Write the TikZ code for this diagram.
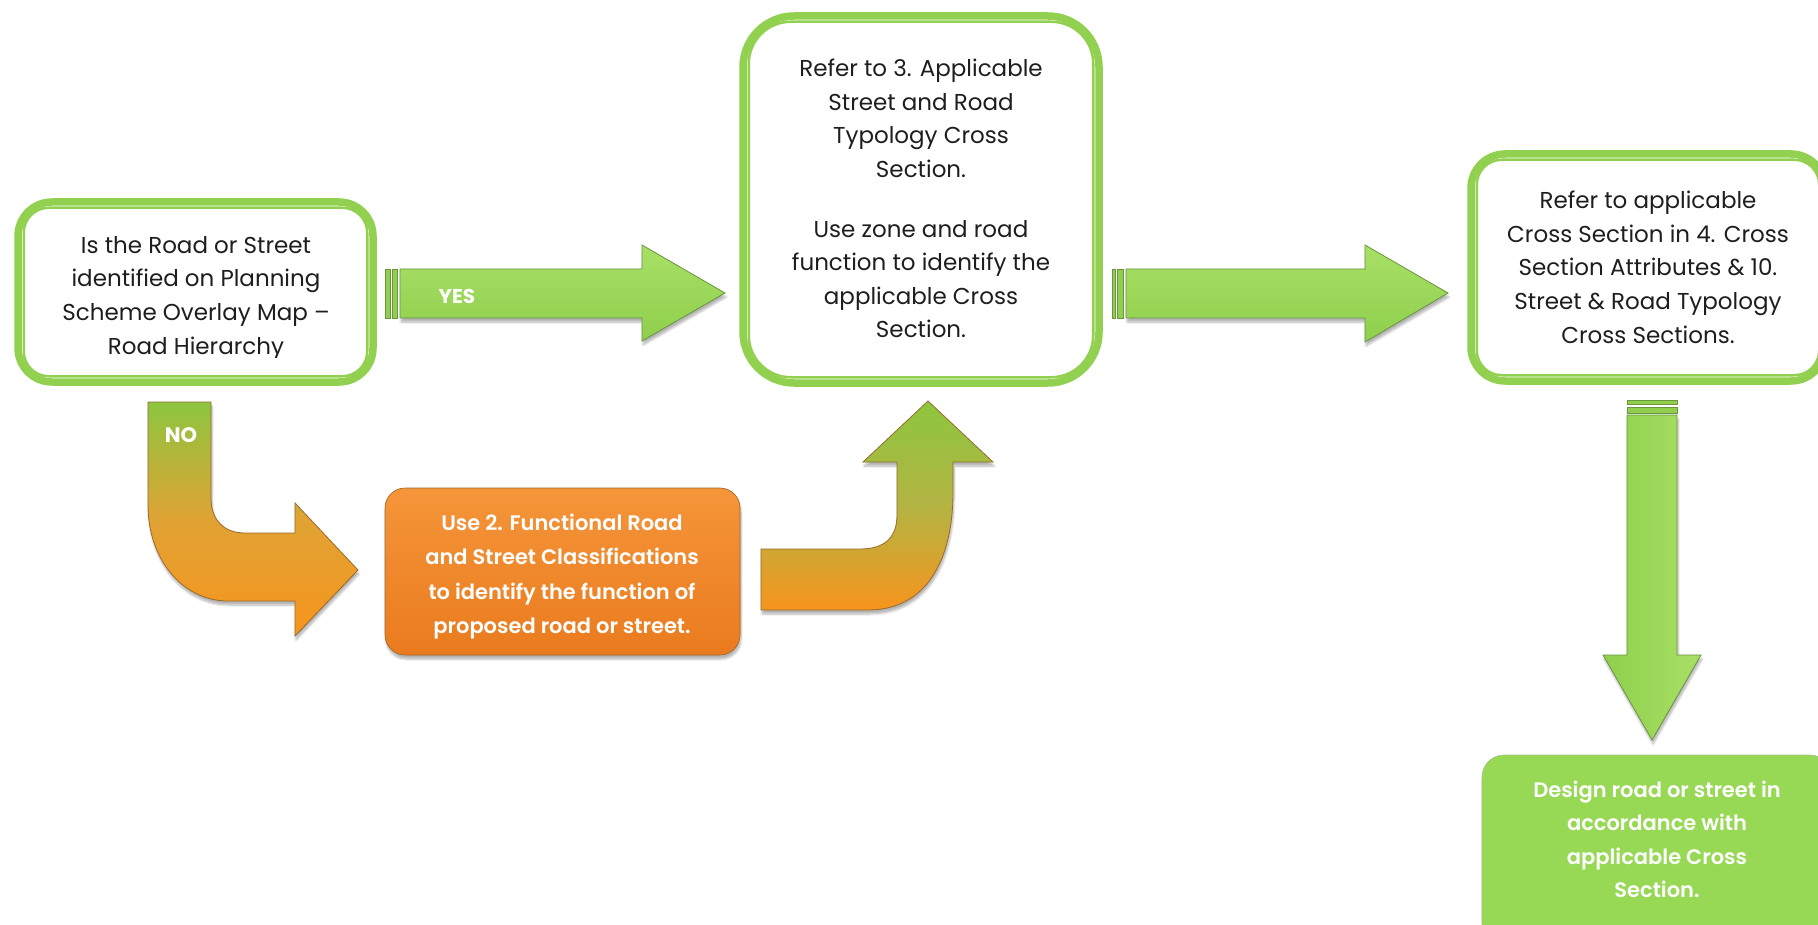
\documentclass[tikz,border=0pt]{standalone}
\usepackage{fontspec}
\setmainfont{Poppins}
\newfontfamily\medfont{Poppins SemiBold}
\usetikzlibrary{shadows.blur}

\definecolor{ringgreen}{HTML}{92D050}
\definecolor{arrowgreen}{HTML}{8FCF4C}
\definecolor{arrowlight}{HTML}{A8E066}
\definecolor{arrowedge}{HTML}{6A9440}
\definecolor{bendgreen}{HTML}{8CC63F}
\definecolor{bendorange}{HTML}{F7941D}
\definecolor{bendedge}{HTML}{9A6A2A}
\definecolor{nomid}{HTML}{E0A334}
\definecolor{upmid}{HTML}{B3B443}
\definecolor{boxorange}{HTML}{EA7B1E}
\definecolor{boxorangelight}{HTML}{F5953A}
\definecolor{designgreen}{HTML}{97D854}
\definecolor{textgrey}{HTML}{1E1E1E}

\begin{document}
\begin{tikzpicture}[x=1pt, y=-1pt,
  ring/.style={draw=ringgreen, line width=7.5pt, fill=white, inner sep=0pt},
  innerring/.style={draw=ringgreen, line width=2.5pt},
  boxtext/.style={align=center, inner sep=0pt, text=textgrey, font=\fontsize{23}{33.6}\selectfont},
  filltext/.style={align=center, inner sep=0pt, text=white, font=\medfont\fontsize{21}{34.3}\selectfont},
  softshadow/.style={blur shadow={shadow xshift=1pt, shadow yshift=-4pt, shadow opacity=30, shadow blur steps=6}},
  greenarrow/.style={draw=arrowedge, line width=0.8pt, top color=arrowlight, bottom color=arrowgreen, softshadow},
  bendarrow/.style={draw=bendedge, line width=0.8pt, top color=bendgreen, bottom color=bendorange, middle color=#1, softshadow},
  arrowbar/.style={draw=arrowedge, line width=0.6pt, fill=arrowgreen},
  arrowlabel/.style={text=white, inner sep=0pt, font=\bfseries\fontsize{20}{20}\selectfont}]

  \useasboundingbox (0,0) rectangle (1818,925);
  \clip (0,0) rectangle (1818,925);

  % question box
  \node[ring, rounded corners=34pt, minimum width=355pt, minimum height=180pt] (q) at (195.5,292) {};
  \draw[innerring, rounded corners=25pt] ([shift={(9.5,9.5)}]q.north west) rectangle ([shift={(-9.5,-9.5)}]q.south east);
  \begin{scope}
    \clip (20,200) rectangle (372,357);
    \node[boxtext, anchor=north] (q-text) at (196,236) {Is the Road or Street\\identified on Planning\\Scheme Overlay Map –\\Road Hierarchy};
  \end{scope}

  % typology box
  \node[ring, rounded corners=51pt, minimum width=356pt, minimum height=367pt] (typ) at (921,199.5) {};
  \draw[innerring, rounded corners=42pt] ([shift={(9.5,9.5)}]typ.north west) rectangle ([shift={(-9.5,-9.5)}]typ.south east);
  \node[boxtext, anchor=north] (typ-text) at (921,59) {Refer to 3. Applicable\\Street and Road\\Typology Cross\\Section.\\[26pt]Use zone and road\\function to identify the\\applicable Cross\\Section.};

  % cross section box
  \node[ring, rounded corners=34pt, minimum width=354pt, minimum height=227pt] (cs) at (1648,267.5) {};
  \draw[innerring, rounded corners=25pt] ([shift={(9.5,9.5)}]cs.north west) rectangle ([shift={(-9.5,-9.5)}]cs.south east);
  \node[boxtext, anchor=north] (cs-text) at (1648,191) {Refer to applicable\\Cross Section in 4. Cross\\Section Attributes \& 10.\\Street \& Road Typology\\Cross Sections.};

  % functional classification box
  \node[fill=boxorange, top color=boxorangelight, bottom color=boxorange, draw=bendedge, line width=0.6pt,
        rounded corners=20pt, minimum width=355pt, minimum height=167pt, softshadow] (fn) at (562.5,571.5) {};
  \node[filltext, anchor=north] (fn-text) at (562,514) {Use 2. Functional Road\\and Street Classifications\\to identify the function of\\proposed road or street.};

  % design box
  \node[fill=designgreen, draw=arrowedge!60, line width=0.6pt, rounded corners=22pt,
        minimum width=350pt, minimum height=190pt, softshadow] (des) at (1657,850) {};
  \node[filltext, anchor=north, font=\medfont\fontsize{21}{33.3}\selectfont] (des-text) at (1657,781) {Design road or street in\\accordance with\\applicable Cross\\Section.};

  % yes arrow
  \draw[arrowbar] (385,269) rectangle (390,318);
  \draw[arrowbar] (392,269) rectangle (397,318);
  \path[greenarrow] (400,269) -- (642,269) -- (642,245) -- (725,293) -- (642,341) -- (642,318) -- (400,318) -- cycle;
  \node[arrowlabel] (yes) at (457,296) {YES};

  % arrow to cross section box
  \draw[arrowbar] (1112,269) rectangle (1115,318);
  \draw[arrowbar] (1117,269) rectangle (1123,318);
  \path[greenarrow] (1126,269) -- (1365,269) -- (1365,245) -- (1448,293) -- (1365,342) -- (1365,318) -- (1126,318) -- cycle;

  % down arrow
  \draw[arrowbar] (1627,400) rectangle (1677,404);
  \draw[arrowbar] (1627,407) rectangle (1677,413);
  \path[greenarrow, left color=arrowgreen, right color=arrowlight] (1627,415) -- (1677,415) -- (1677,655) -- (1701,655) -- (1652,740) -- (1603,655) -- (1627,655) -- cycle;

  % no arrow
  \path[bendarrow=nomid] (148,402) -- (211,402) -- (211,498) .. controls (211,520) and (224,533) .. (245,533)
      -- (295,533) -- (295,503) -- (358,570) -- (295,636) -- (295,601) -- (228,601)
      .. controls (183,601) and (148,560) .. (148,505) -- cycle;
  \node[arrowlabel, font=\bfseries\fontsize{21}{21}\selectfont] (no) at (181,435) {NO};

  % up arrow
  \path[bendarrow=upmid] (761,549) -- (860,549) .. controls (884,549) and (897,538) .. (897,515)
      -- (897,462) -- (863,462) -- (928,401) -- (993,462) -- (953,462) -- (953,492)
      .. controls (953,562) and (925,610) .. (868,610) -- (761,610) -- cycle;
\end{tikzpicture}
\end{document}
